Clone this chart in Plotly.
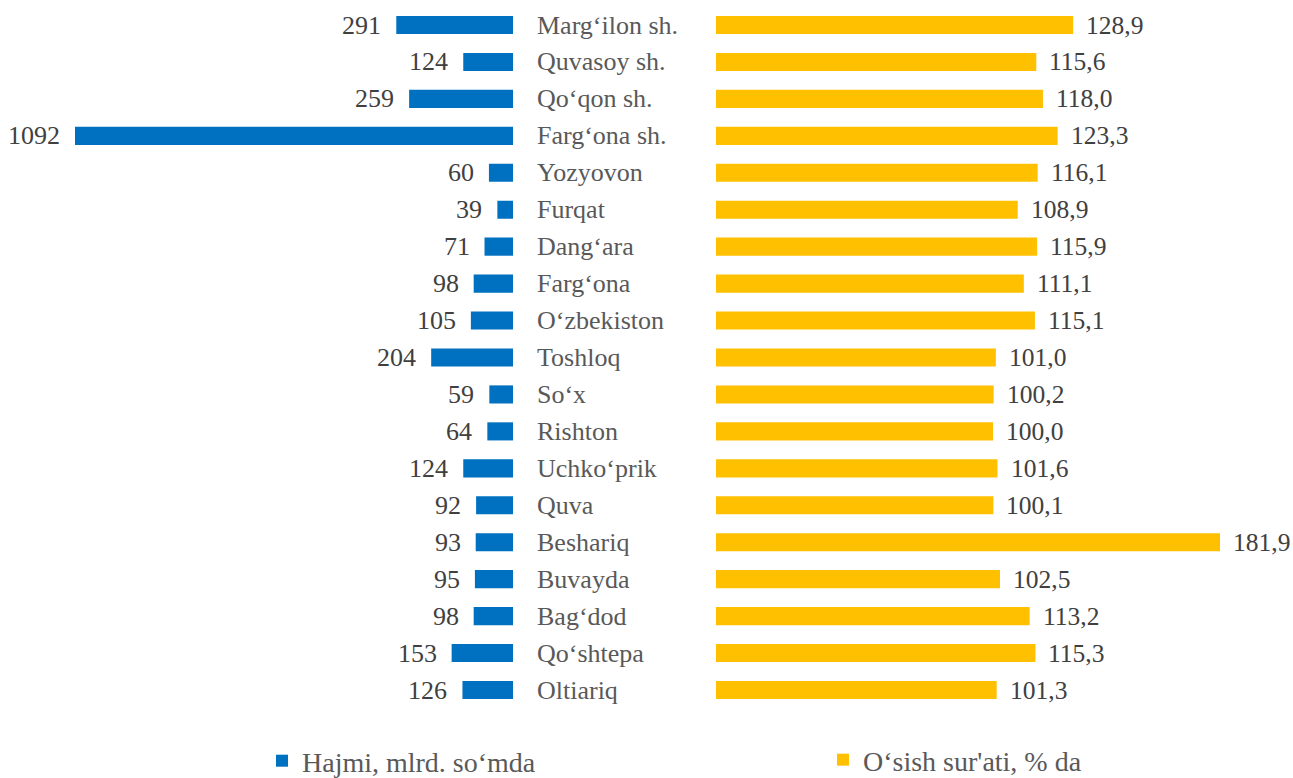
import plotly.graph_objects as go

categories = ["Marg‘ilon sh.", "Quvasoy sh.", "Qo‘qon sh.", "Farg‘ona sh.", "Yozyovon",
              "Furqat", "Dang‘ara", "Farg‘ona", "O‘zbekiston", "Toshloq", "So‘x",
              "Rishton", "Uchko‘prik", "Quva", "Beshariq", "Buvayda", "Bag‘dod",
              "Qo‘shtepa", "Oltiariq"]
volume = [291, 124, 259, 1092, 60, 39, 71, 98, 105, 204, 59, 64, 124, 92, 93, 95, 98, 153, 126]
growth = [128.9, 115.6, 118.0, 123.3, 116.1, 108.9, 115.9, 111.1, 115.1, 101.0, 100.2,
          100.0, 101.6, 100.1, 181.9, 102.5, 113.2, 115.3, 101.3]
name_volume = "Hajmi, mlrd. so‘mda"
name_growth = "O‘sish sur'ati, % da"

W, H = 1293, 778
FONT = "Times New Roman, Liberation Serif, Tinos, serif"
BLUE = "#0070C0"
YELLOW = "#FFC000"

fig = go.Figure()
fig.add_trace(go.Bar(x=volume, y=categories, orientation="h", marker_color=BLUE,
                     marker_line_width=0, name=name_volume, xaxis="x", yaxis="y",
                     legend="legend", width=0.49, hoverinfo="x+y"))
fig.add_trace(go.Bar(x=growth, y=categories, orientation="h", marker_color=YELLOW,
                     marker_line_width=0, name=name_growth, xaxis="x2", yaxis="y",
                     legend="legend2", width=0.49, hoverinfo="x+y"))

annotations = []
for c, v in zip(categories, volume):
    annotations.append(dict(x=v, y=c, xref="x", yref="y", text=str(v), showarrow=False,
                            xanchor="right", xshift=-13,
                            font=dict(family=FONT, size=26, color="#404040")))
for c, v in zip(categories, growth):
    annotations.append(dict(x=v, y=c, xref="x2", yref="y", text=f"{v:.1f}".replace(".", ","),
                            showarrow=False, xanchor="left", xshift=11,
                            font=dict(family=FONT, size=25.5, color="#404040")))
for c in categories:
    annotations.append(dict(x=535 / W, y=c, xref="paper", yref="y", text=c, showarrow=False,
                            xanchor="left",
                            font=dict(family=FONT, size=26, color="#595959")))

left_zero = 513
left_scale = (513 - 75) / 1092
right_zero = 716
right_scale = (1220 - 716) / 181.9

top_px = 25 - 36.94 / 2
bot_px = 690 + 36.94 / 2

fig.update_layout(
    width=W, height=H,
    margin=dict(l=0, r=0, t=0, b=0, autoexpand=False),
    paper_bgcolor="white", plot_bgcolor="white",
    font=dict(family=FONT, size=26, color="#595959"),
    xaxis=dict(domain=[0, left_zero / W], range=[left_zero / left_scale, 0],
               visible=False, showgrid=False, zeroline=False, fixedrange=True),
    xaxis2=dict(domain=[right_zero / W, 1], range=[0, (W - right_zero) / right_scale],
                visible=False, showgrid=False, zeroline=False, fixedrange=True),
    yaxis=dict(domain=[1 - bot_px / H, 1 - top_px / H], autorange="reversed",
               categoryorder="array", categoryarray=categories,
               visible=False, showgrid=False, fixedrange=True),
    annotations=annotations,
    legend=dict(x=262 / W, y=1 - 761 / H, xanchor="left", yanchor="middle",
                font=dict(family=FONT, size=28, color="#595959"),
                bgcolor="rgba(0,0,0,0)", borderwidth=0),
    legend2=dict(x=823 / W, y=1 - 760 / H, xanchor="left", yanchor="middle",
                 font=dict(family=FONT, size=28, color="#595959"),
                 bgcolor="rgba(0,0,0,0)", borderwidth=0),
    showlegend=True,
)

fig.write_html("out.html")
